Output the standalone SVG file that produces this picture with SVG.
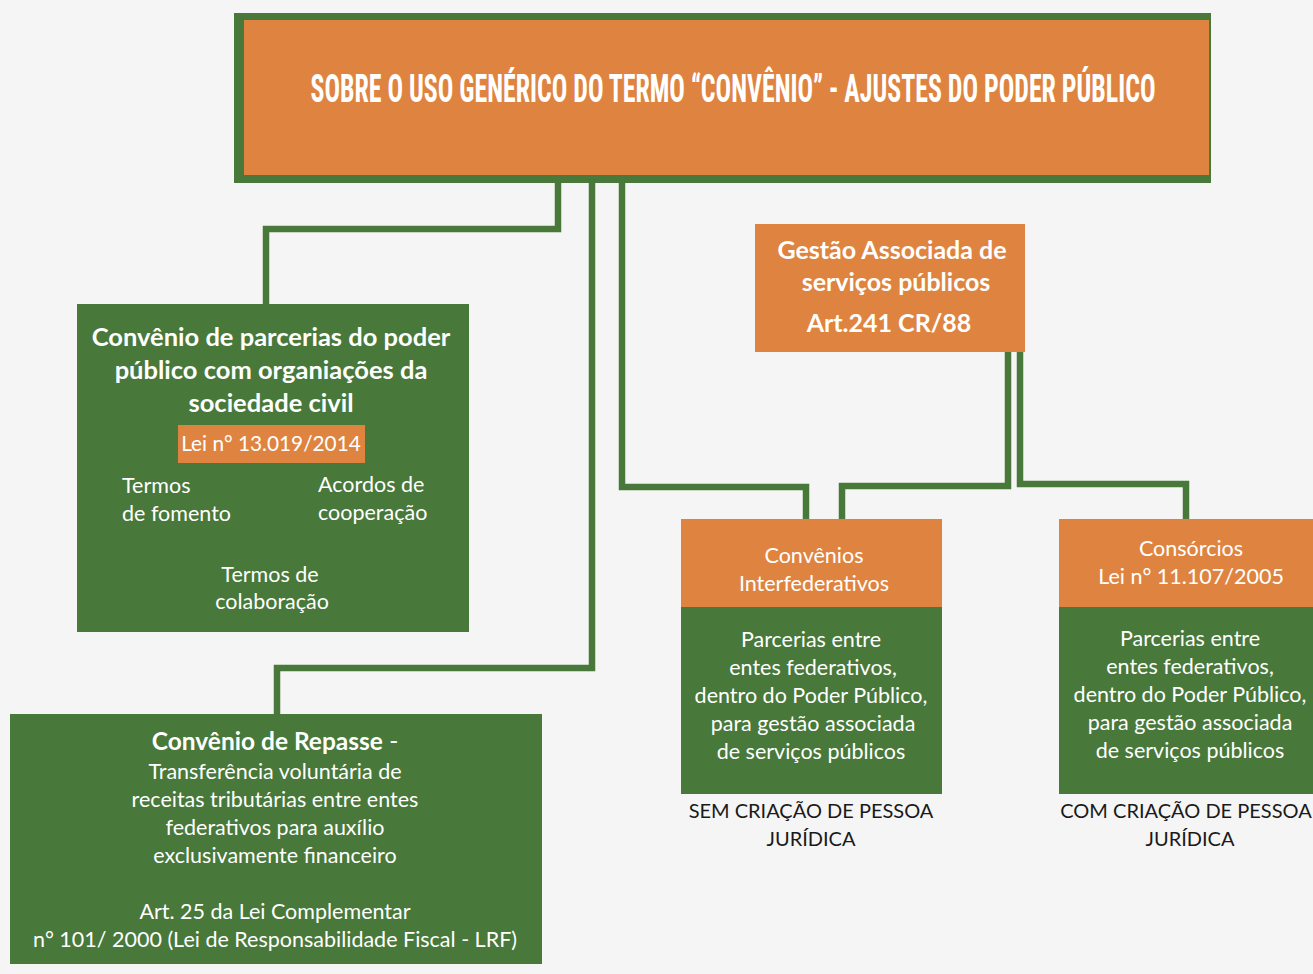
<svg xmlns="http://www.w3.org/2000/svg" width="1313" height="974" viewBox="0 0 1313 974">
<style>
.bg{fill:#f5f5f5}
.or{fill:#DF8440}
.gr{fill:#48783A}
.conn{fill:none;stroke:#48783A;stroke-width:6.5}
.br{fill:none;stroke:#DF8440;stroke-width:2}
text{font-family:Lato,"Open Sans","Liberation Sans",sans-serif;fill:#ffffff}
.b{font-weight:bold}
.c{text-anchor:middle}
.t{font-family:"Liberation Sans Narrow","Roboto Condensed","DejaVu Sans Condensed",Roboto,sans-serif;font-weight:bold;font-size:38px}
.s{font-size:21.5px}
.u{font-size:20px;fill:#1a1a1a}
</style>
<rect class="bg" x="0" y="0" width="1313" height="974"/>
<g id="connectors">
<polyline class="conn" points="558,182 558,229 266,229 266,305"/>
<polyline class="conn" points="592,182 592,668 277,668 277,715"/>
<polyline class="conn" points="622,182 622,487 806,487 806,519"/>
<polyline class="conn" points="1008,352 1008,486 842,486 842,519"/>
<polyline class="conn" points="1020,352 1020,484 1186,484 1186,519"/>
<polyline class="br" points="178,443 100,443 100,499 122,499"/>
<polyline class="br" points="365,443 446,443 446,499 425,499"/>
<line class="br" x1="269" y1="463" x2="269" y2="560"/>
</g>
<g id="title">
<rect class="gr" x="234" y="13" width="977" height="170"/>
<rect class="or" x="244" y="20" width="965" height="155"/>
<text class="t c" x="733" y="102" textLength="845" lengthAdjust="spacingAndGlyphs">SOBRE O USO GENÉRICO DO TERMO “CONVÊNIO” - AJUSTES DO PODER PÚBLICO</text>
</g>
<g id="parcerias">
<rect class="gr" x="77" y="304" width="392" height="328"/>
<text class="b c" x="271" y="346" font-size="25.5">Convênio de parcerias do poder</text>
<text class="b c" x="271" y="379" font-size="25.5">público com organiações da</text>
<text class="b c" x="271" y="412" font-size="25.5">sociedade civil</text>
<rect class="or" x="178" y="425" width="187" height="38"/>
<text class="c" x="271" y="451" font-size="20.8">Lei n° 13.019/2014</text>
<text class="s" x="122" y="493">Termos</text>
<text class="s" x="122" y="521">de fomento</text>
<text class="s" x="318" y="492">Acordos de</text>
<text class="s" x="318" y="520">cooperação</text>
<text class="s c" x="270" y="582">Termos de</text>
<text class="s c" x="272" y="609">colaboração</text>
</g>
<g id="gestao">
<rect class="or" x="755" y="224" width="270" height="128"/>
<text class="b c" x="892" y="259" font-size="25">Gestão Associada de</text>
<text class="b c" x="896" y="291" font-size="25">serviços públicos</text>
<text class="b c" x="889" y="332" font-size="25">Art.241 CR/88</text>
</g>
<g id="repasse">
<rect class="gr" x="10" y="714" width="532" height="250"/>
<text class="c" x="275" y="750" font-size="24.5"><tspan class="b">Convênio de Repasse</tspan> -</text>
<text class="s c" x="275" y="779">Transferência voluntária de</text>
<text class="s c" x="275" y="807">receitas tributárias entre entes</text>
<text class="s c" x="275" y="835">federativos para auxílio</text>
<text class="s c" x="275" y="863">exclusivamente financeiro</text>
<text class="s c" x="275" y="919">Art. 25 da Lei Complementar</text>
<text class="s c" x="275" y="947">n° 101/ 2000 (Lei de Responsabilidade Fiscal - LRF)</text>
</g>
<g id="interfederativos">
<rect class="or" x="681" y="519" width="261" height="88"/>
<rect class="gr" x="681" y="607" width="261" height="187"/>
<text class="s c" x="814" y="563">Convênios</text>
<text class="s c" x="814" y="591">Interfederativos</text>
<text class="s c" x="811" y="647">Parcerias entre</text>
<text class="s c" x="813" y="675">entes federativos,</text>
<text class="s c" x="811" y="703">dentro do Poder Público,</text>
<text class="s c" x="813" y="731">para gestão associada</text>
<text class="s c" x="811" y="759">de serviços públicos</text>
<text class="u c" x="811" y="818">SEM CRIAÇÃO DE PESSOA</text>
<text class="u c" x="811" y="846">JURÍDICA</text>
</g>
<g id="consorcios">
<rect class="or" x="1059" y="519" width="260" height="88"/>
<rect class="gr" x="1059" y="607" width="260" height="187"/>
<text class="s c" x="1191" y="556">Consórcios</text>
<text class="s c" x="1191" y="584">Lei n° 11.107/2005</text>
<text class="s c" x="1190" y="646">Parcerias entre</text>
<text class="s c" x="1190" y="674">entes federativos,</text>
<text class="s c" x="1190" y="702">dentro do Poder Público,</text>
<text class="s c" x="1190" y="730">para gestão associada</text>
<text class="s c" x="1190" y="758">de serviços públicos</text>
<text class="u c" x="1186" y="818">COM CRIAÇÃO DE PESSOA</text>
<text class="u c" x="1190" y="846">JURÍDICA</text>
</g>
</svg>
